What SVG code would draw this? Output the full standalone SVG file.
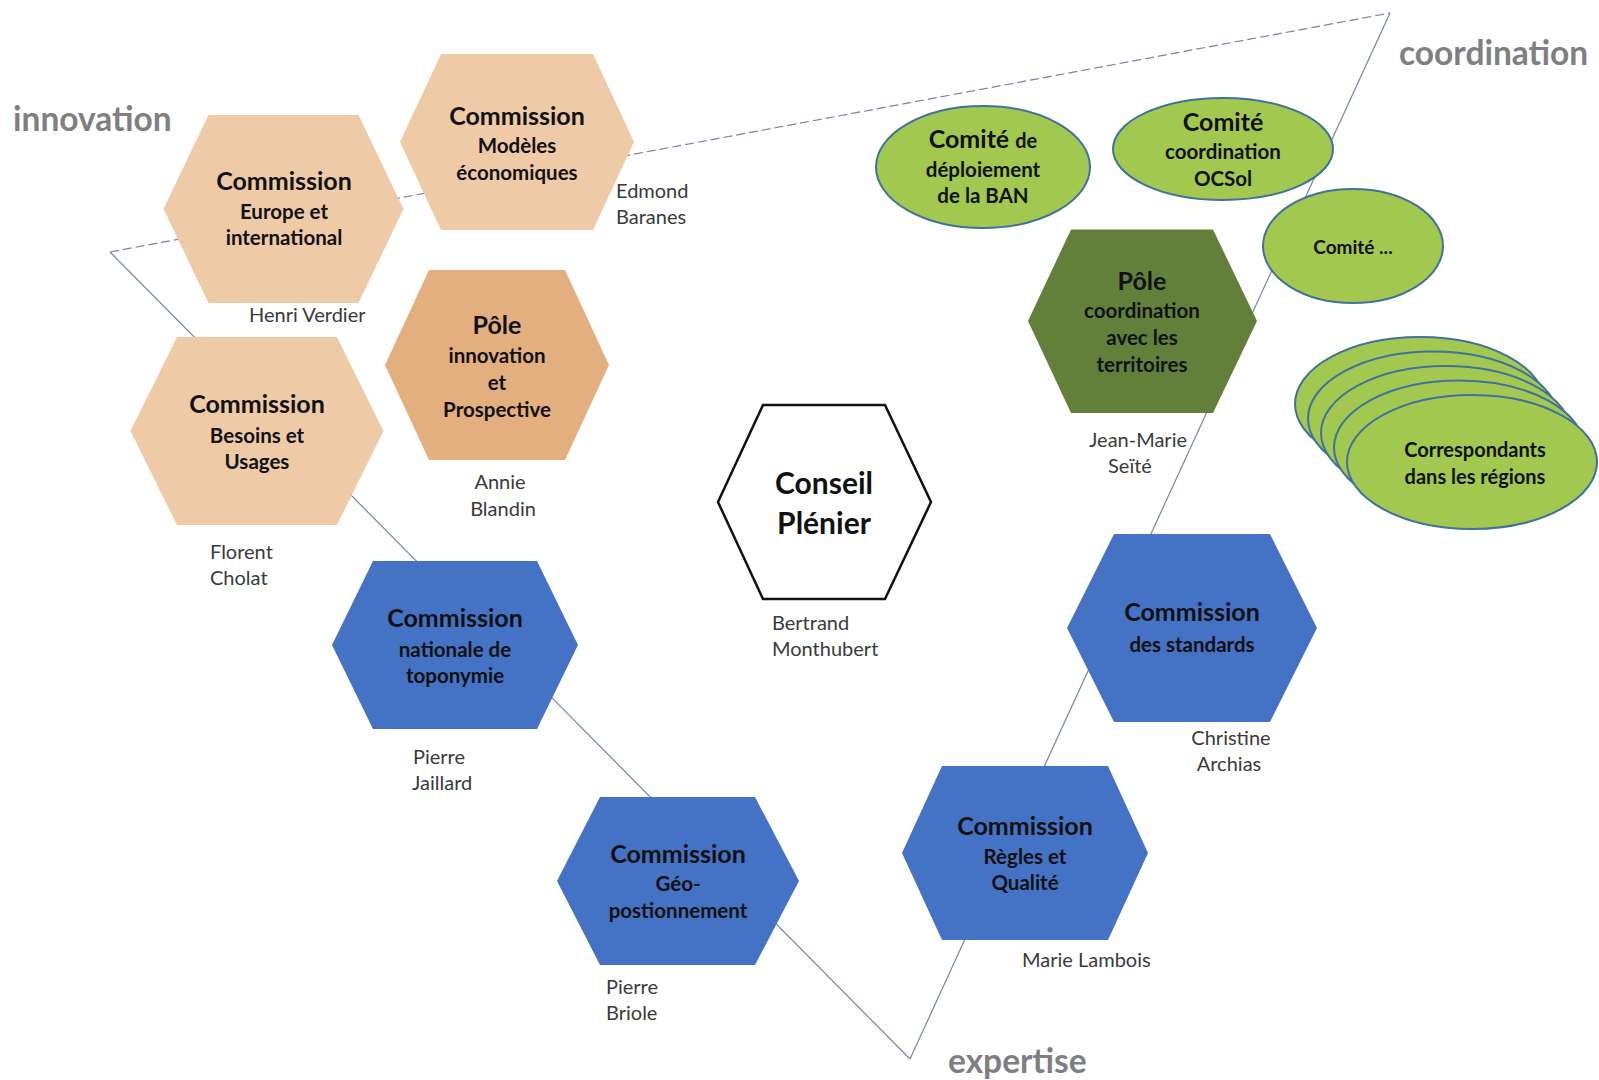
<svg xmlns="http://www.w3.org/2000/svg" width="1599" height="1080" viewBox="0 0 1599 1080">
<style>
text{font-family:Lato,"Open Sans","Liberation Sans",sans-serif;}
.t{font-size:25px;font-weight:bold;fill:#111;text-anchor:middle;}
.s{font-size:20.5px;font-weight:bold;fill:#111;text-anchor:middle;}
.n{font-size:20px;fill:#3a3a3a;}
.lab{font-size:33.5px;font-weight:bold;fill:#7f7f7f;}
.peach{fill:#EFCAA7;}
.peach2{fill:#E3AF7F;}
.blue{fill:#4472C4;}
.dgreen{fill:#62803A;}
.lg{fill:#A2C84F;stroke:#41719C;stroke-width:2;}
.edge{fill:none;stroke:#7484A3;stroke-width:1.2;}
</style>
<rect width="1599" height="1080" fill="#ffffff"/>
<g id="connectors">
<line class="edge" x1="110" y1="252" x2="1390" y2="13" stroke-dasharray="9 4"/>
<line class="edge" x1="110" y1="252" x2="910" y2="1059"/>
<line class="edge" x1="910" y1="1059" x2="1390" y2="13"/>
</g>
<g id="label-innovation"><text class="lab" x="13" y="131">innovation</text></g>
<g id="label-coordination"><text class="lab" x="1399" y="65">coordination</text></g>
<g id="label-expertise"><text class="lab" x="948" y="1073">expertise</text></g>

<g id="commission-europe">
<polygon class="peach" points="163.5,209 208.5,115 358.5,115 403.5,209 358.5,303 208.5,303"/>
<text class="t" x="284" y="190">Commission</text>
<text class="s" x="284" y="219">Europe et</text>
<text class="s" x="284" y="245">international</text>
<text class="n" x="249" y="322">Henri Verdier</text>
</g>
<g id="commission-modeles">
<polygon class="peach" points="400,142 441,54 593,54 634,142 593,230 441,230"/>
<text class="t" x="517" y="125">Commission</text>
<text class="s" x="517" y="153">Modèles</text>
<text class="s" x="517" y="180">économiques</text>
<text class="n" x="616" y="198">Edmond</text>
<text class="n" x="616" y="224">Baranes</text>
</g>
<g id="pole-innovation">
<polygon class="peach2" points="385,365 429,270 565,270 609,365 565,460 429,460"/>
<text class="t" x="497" y="334">Pôle</text>
<text class="s" x="497" y="363">innovation</text>
<text class="s" x="497" y="390">et</text>
<text class="s" x="497" y="417">Prospective</text>
<text class="n" x="500" y="489" text-anchor="middle">Annie</text>
<text class="n" x="503" y="516" text-anchor="middle">Blandin</text>
</g>
<g id="commission-besoins">
<polygon class="peach" points="130.5,431 177,337 337,337 383.5,431 337,525 177,525"/>
<text class="t" x="257" y="413">Commission</text>
<text class="s" x="257" y="443">Besoins et</text>
<text class="s" x="257" y="469">Usages</text>
<text class="n" x="210" y="559">Florent</text>
<text class="n" x="210" y="585">Cholat</text>
</g>
<g id="conseil-plenier">
<polygon points="718,502 763,405 885,405 931,502 885,599 763,599" fill="#ffffff" stroke="#111" stroke-width="2.5"/>
<text class="t" x="824" y="494" style="font-size:30px">Conseil</text>
<text class="t" x="824" y="534" style="font-size:30px">Plénier</text>
<text class="n" x="772" y="630">Bertrand</text>
<text class="n" x="772" y="656">Monthubert</text>
</g>
<g id="pole-coordination">
<polygon class="dgreen" points="1028,321 1071,229.5 1213,229.5 1257,321 1213,413 1071,413"/>
<text class="t" x="1142" y="290">Pôle</text>
<text class="s" x="1142" y="318">coordination</text>
<text class="s" x="1142" y="345">avec les</text>
<text class="s" x="1142" y="372">territoires</text>
<text class="n" x="1138" y="447" text-anchor="middle">Jean-Marie</text>
<text class="n" x="1130" y="473" text-anchor="middle">Seïté</text>
</g>
<g id="commission-standards">
<polygon class="blue" points="1067,628 1114,534 1270,534 1317,628 1270,722 1114,722"/>
<text class="t" x="1192" y="621">Commission</text>
<text class="s" x="1192" y="652">des standards</text>
<text class="n" x="1231" y="745" text-anchor="middle">Christine</text>
<text class="n" x="1229" y="771" text-anchor="middle">Archias</text>
</g>
<g id="commission-toponymie">
<polygon class="blue" points="332,645 373,561 537,561 578,645 537,729 373,729"/>
<text class="t" x="455" y="627">Commission</text>
<text class="s" x="455" y="657">nationale de</text>
<text class="s" x="455" y="683">toponymie</text>
<text class="n" x="413" y="764">Pierre</text>
<text class="n" x="412" y="790">Jaillard</text>
</g>
<g id="commission-geo">
<polygon class="blue" points="557,881 600,797 755,797 799,881 755,965 600,965"/>
<text class="t" x="678" y="863">Commission</text>
<text class="s" x="678" y="891">Géo-</text>
<text class="s" x="678" y="918">postionnement</text>
<text class="n" x="606" y="994">Pierre</text>
<text class="n" x="606" y="1020">Briole</text>
</g>
<g id="commission-regles">
<polygon class="blue" points="902,853 942,766 1108,766 1148,853 1108,940 942,940"/>
<text class="t" x="1025" y="835">Commission</text>
<text class="s" x="1025" y="864">Règles et</text>
<text class="s" x="1025" y="890">Qualité</text>
<text class="n" x="1022" y="967">Marie Lambois</text>
</g>

<g id="comite-ban">
<ellipse class="lg" cx="983" cy="167" rx="107" ry="61"/>
<text class="t" x="983" y="148">Comité <tspan style="font-size:20px">de</tspan></text>
<text class="s" x="983" y="177">déploiement</text>
<text class="s" x="983" y="203">de la BAN</text>
</g>
<g id="comite-ocsol">
<ellipse class="lg" cx="1223" cy="149" rx="110" ry="51"/>
<text class="t" x="1223" y="131">Comité</text>
<text class="s" x="1223" y="159">coordination</text>
<text class="s" x="1223" y="186">OCSol</text>
</g>
<g id="comite-etc">
<ellipse class="lg" cx="1353" cy="246" rx="90" ry="57"/>
<text class="s" x="1353" y="254" style="font-size:19px">Comité ...</text>
</g>
<g id="correspondants">
<ellipse class="lg" cx="1420" cy="404" rx="125" ry="67"/>
<ellipse class="lg" cx="1433" cy="418.5" rx="125" ry="67"/>
<ellipse class="lg" cx="1446" cy="433" rx="125" ry="67"/>
<ellipse class="lg" cx="1459" cy="447.5" rx="125" ry="67"/>
<ellipse class="lg" cx="1472" cy="462" rx="125" ry="67"/>
<text class="s" x="1475" y="457" style="font-size:20px">Correspondants</text>
<text class="s" x="1475" y="484" style="font-size:20px">dans les régions</text>
</g>
</svg>
